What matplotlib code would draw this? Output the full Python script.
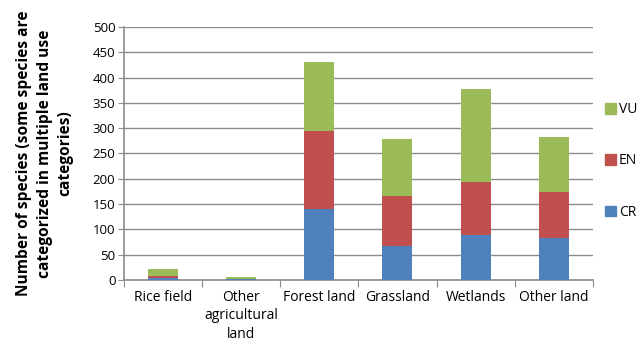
import matplotlib
matplotlib.use("Agg")
import matplotlib.pyplot as plt
import numpy as np
from matplotlib.patches import Patch

plt.rcParams["font.family"] = ["Open Sans", "DejaVu Sans"]

# Threatened species per land use category
categorias = ["Rice field", "Other\nagricultural\nland", "Forest land",
              "Grassland", "Wetlands", "Other land"]
cr = [4, 1, 140, 67, 88, 83]
en = [4, 0, 155, 98, 106, 90]
vu = [14, 5, 136, 113, 183, 109]

COR_CR = "#4F81BD"
COR_EN = "#C0504D"
COR_VU = "#9BBB59"

fig = plt.figure(figsize=(6.41, 3.46), dpi=100)
ax = fig.add_axes([0.193, 0.191, 0.732, 0.731])

x = np.arange(len(categorias))
w = 0.385
cr_a = np.array(cr)
en_a = np.array(en)
vu_a = np.array(vu)
ax.bar(x, cr_a, w, color=COR_CR, zorder=3)
ax.bar(x, en_a, w, bottom=cr_a, color=COR_EN, zorder=3)
ax.bar(x, vu_a, w, bottom=cr_a + en_a, color=COR_VU, zorder=3)

ax.set_xlim(-0.5, len(categorias) - 0.5)
ax.set_ylim(0, 500)
ax.set_yticks(range(0, 501, 50))
ax.yaxis.grid(True, color="#8c8c8c", linewidth=1.0, zorder=0)
ax.tick_params(axis="y", length=4, color="#8c8c8c", labelsize=9.5, pad=2)

# category labels centred, tick marks between categories
ax.set_xticks(np.arange(-0.5, len(categorias), 1.0))
ax.set_xticklabels([])
ax.tick_params(axis="x", length=5, color="#8c8c8c")
ax.set_xticks(x, minor=True)
ax.set_xticklabels(categorias, minor=True, fontsize=10, linespacing=1.35)
ax.tick_params(axis="x", which="minor", length=0, pad=7)

for s in ["top", "right"]:
    ax.spines[s].set_visible(False)
for s in ["left", "bottom"]:
    ax.spines[s].set_color("#8c8c8c")
    ax.spines[s].set_linewidth(1.2)

ax.set_ylabel("Number of species (some species are\ncategorized in multiple land use\ncategories)",
              fontsize=11.2, fontweight="bold", linespacing=1.38, labelpad=14)

handles = [Patch(color=COR_VU), Patch(color=COR_EN), Patch(color=COR_CR)]
fig.legend(handles, ["VU", "EN", "CR"], loc="center left",
           bbox_to_anchor=(0.944, 0.535), frameon=False, fontsize=10,
           handlelength=0.75, handleheight=0.75, labelspacing=2.6, handletextpad=0.25,
           borderpad=0, borderaxespad=0)

fig.savefig("out.png", dpi=100)
